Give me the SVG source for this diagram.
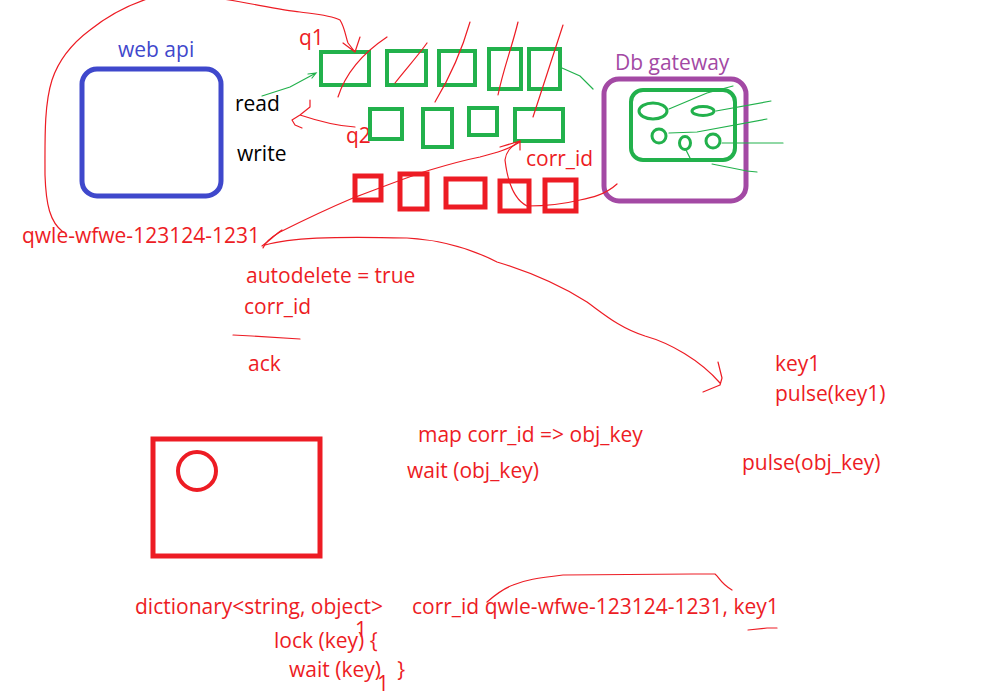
<svg xmlns="http://www.w3.org/2000/svg" width="1000" height="700" viewBox="0 0 1000 700">
<style>
.t{font-family:"Open Sans","Liberation Sans",sans-serif;font-size:21px}
.r{fill:#ed1c24}
.k{fill:#000}
.gbox{fill:none;stroke:#22b14c;stroke-width:4}
.rbox{fill:none;stroke:#ed1c24;stroke-width:5}
.rl{fill:none;stroke:#ed1c24;stroke-width:1.2;stroke-linejoin:round;stroke-linecap:round}
.gl{fill:none;stroke:#22b14c;stroke-width:1.2;stroke-linecap:round}
</style>
<rect width="1000" height="700" fill="#fff"/>

<g id="web-api">
<rect x="82" y="69" width="139" height="127" rx="15" fill="none" stroke="#3f48cc" stroke-width="5"/>
<text x="118" y="57" class="t" font-size="20" fill="#3f48cc">web api</text>
<text x="235" y="111" class="t k" font-size="20">read</text>
<text x="237" y="161" class="t k" font-size="20">write</text>
</g>

<g id="q1">
<text x="299" y="45" class="t r" font-size="20">q1</text>
<rect class="gbox" x="321" y="52" width="48" height="33"/>
<rect class="gbox" x="387" y="51" width="39" height="34"/>
<rect class="gbox" x="439" y="51" width="36" height="34"/>
<rect class="gbox" x="489" y="49" width="32" height="40"/>
<rect class="gbox" x="529" y="49" width="31" height="40"/>
</g>

<g id="q2">
<text x="346" y="143" class="t r" font-size="20">q2</text>
<rect class="gbox" x="370" y="109" width="32" height="30"/>
<rect class="gbox" x="423" y="109" width="29" height="38"/>
<rect class="gbox" x="469" y="108" width="28" height="27"/>
<rect class="gbox" x="515" y="109" width="48" height="32"/>
<text x="526" y="166" class="t r" font-size="20">corr_id</text>
</g>

<g id="reply-queue">
<rect class="rbox" x="355" y="176" width="26" height="24"/>
<rect class="rbox" x="400" y="174" width="27" height="35"/>
<rect class="rbox" x="446" y="179" width="39" height="28"/>
<rect class="rbox" x="500" y="181" width="29" height="30"/>
<rect class="rbox" x="545" y="180" width="31" height="31"/>
</g>

<g id="db-gateway">
<rect x="604" y="79" width="142" height="122" rx="15" fill="none" stroke="#a349a4" stroke-width="5"/>
<text x="615" y="70" class="t" font-size="20" fill="#a349a4">Db gateway</text>
<rect x="631" y="90" width="104" height="70" rx="12" fill="none" stroke="#22b14c" stroke-width="4"/>
<ellipse cx="653" cy="111" rx="14" ry="8" fill="none" stroke="#22b14c" stroke-width="3"/>
<ellipse cx="703" cy="111" rx="11" ry="4.5" fill="none" stroke="#22b14c" stroke-width="3"/>
<circle cx="659" cy="136" r="7" fill="none" stroke="#22b14c" stroke-width="3"/>
<ellipse cx="685" cy="143" rx="5.5" ry="6.5" fill="none" stroke="#22b14c" stroke-width="3"/>
<circle cx="713" cy="141" r="7" fill="none" stroke="#22b14c" stroke-width="3"/>
<path class="gl" d="M669,109 L707,93 L733,86 M716,111 L771,101 M669,133 L697,132 L767,119 M722,143 L783,143 M686,150 L690,158 M712,164 L747,171 L757,172"/>
</g>

<g id="store">
<rect x="153" y="439" width="167" height="117" fill="none" stroke="#ed1c24" stroke-width="5"/>
<circle cx="197" cy="471" r="19" fill="none" stroke="#ed1c24" stroke-width="4"/>
</g>

<g id="labels">
<text x="22" y="243" class="t r">qwle-wfwe-123124-1231</text>
<text x="246" y="283" class="t r">autodelete = true</text>
<text x="244" y="314" class="t r">corr_id</text>
<text x="248" y="371" class="t r">ack</text>
<text x="775" y="371" class="t r">key1</text>
<text x="775" y="401" class="t r">pulse(key1)</text>
<text x="418" y="442" class="t r">map corr_id =&gt; obj_key</text>
<text x="407" y="478" class="t r">wait (obj_key)</text>
<text x="742" y="470" class="t r">pulse(obj_key)</text>
<text x="135" y="614" class="t r">dictionary&lt;string, object&gt;</text>
<text x="412" y="614" class="t r">corr_id qwle-wfwe-123124-1231, key1</text>
<text x="274" y="648" class="t r">lock (key) {</text>
<text x="289" y="677" class="t r" style="white-space:pre" xml:space="preserve">wait (key)   }</text>
<text x="355" y="637" class="t r" font-size="17">1</text>
<text x="377" y="691" class="t r" font-size="17">1</text>
</g>

<g id="connectors">
<path class="gl" d="M262,96 L290,87 L316,73 M308,74 L316,73 L312,78 M562,68 L580,76 L593,89"/>
<path class="rl" d="M63,232 C50,222 46,205 45,175 C45,140 44,105 52,80 C58,62 70,45 90,30 C105,18 125,6 150,-2 M217,-2 C250,3 280,10 300,12 C315,14 330,15 340,20 C345,28 346,38 348,43 L355,52 M343,43 L355,52 L360,37"/>
<path class="rl" d="M338,97 C345,75 360,55 387,37 M395,83 C405,70 417,57 427,43 M435,102 C450,77 462,50 470,22 M498,95 C503,70 512,47 518,22 M533,117 C540,95 550,65 563,25"/>
<path class="rl" d="M355,127 C335,126 315,120 300,115 M310,100 L310,107 L300,115 L292,120 L295,125 L302,128"/>
<path class="rl" d="M263,248 C266,240 275,235 280,232 C300,222 320,212 353,198 C380,188 410,176 430,170 C450,164 470,159 480,157 C495,153 507,150 520,142 M500,147 L520,141 L520,150"/>
<path class="rl" d="M617,184 C605,195 590,198 580,200 C560,205 547,206 527,206 C515,200 508,185 505,160 C506,152 510,147 520,141"/>
<path class="rl" d="M262,246 C270,240 276,234 282,230 M265,245 C290,238 330,236 407,238 C440,240 470,248 497,262 C530,272 560,285 587,302 C605,315 620,328 645,336 C670,343 700,360 720,383 M718,362 L722,378 L720,385 L703,392"/>
<path class="rl" d="M233,335 L252,336 L300,339"/>
<path class="rl" d="M487,602 C495,595 505,588 513,585 C525,580 537,578 563,575 L693,574 L715,574 C720,578 720,583 732,590 M748,630 L767,628 L777,628"/>
</g>
</svg>
